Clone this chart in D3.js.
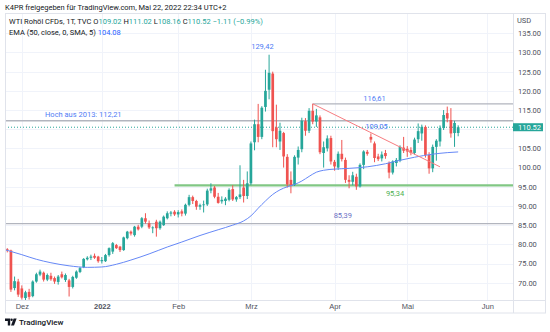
<!DOCTYPE html>
<html><head><meta charset="utf-8">
<script src="https://cdn.jsdelivr.net/npm/d3@7"></script>
<style>
html,body{margin:0;padding:0;background:#fff;}
svg{display:block;font-family:Roboto,"Noto Sans",Arial,sans-serif;}
</style></head><body>
<svg id="chart" width="550" height="332"></svg>
<script>
// Daily WTI CFD candles (TVC), 24 Nov 2021 - 20 May 2022
const dates = [
"2021-11-24","2021-11-26","2021-11-29","2021-11-30","2021-12-01","2021-12-02","2021-12-03","2021-12-06","2021-12-07","2021-12-08",
"2021-12-09","2021-12-10","2021-12-13","2021-12-14","2021-12-15","2021-12-16","2021-12-17","2021-12-20","2021-12-21","2021-12-22",
"2021-12-23","2021-12-27","2021-12-28","2021-12-29","2021-12-30","2021-12-31","2022-01-03","2022-01-04","2022-01-05","2022-01-06",
"2022-01-07","2022-01-10","2022-01-11","2022-01-12","2022-01-13","2022-01-14","2022-01-17","2022-01-18","2022-01-19","2022-01-20",
"2022-01-21","2022-01-24","2022-01-25","2022-01-26","2022-01-27","2022-01-28","2022-01-31","2022-02-01","2022-02-02","2022-02-03",
"2022-02-04","2022-02-07","2022-02-08","2022-02-09","2022-02-10","2022-02-11","2022-02-14","2022-02-15","2022-02-16","2022-02-17",
"2022-02-18","2022-02-21","2022-02-22","2022-02-23","2022-02-24","2022-02-25","2022-02-28","2022-03-01","2022-03-02","2022-03-03",
"2022-03-04","2022-03-07","2022-03-08","2022-03-09","2022-03-10","2022-03-11","2022-03-14","2022-03-15","2022-03-16","2022-03-17",
"2022-03-18","2022-03-21","2022-03-22","2022-03-23","2022-03-24","2022-03-25","2022-03-28","2022-03-29","2022-03-30","2022-03-31",
"2022-04-01","2022-04-04","2022-04-05","2022-04-06","2022-04-07","2022-04-08","2022-04-11","2022-04-12","2022-04-13","2022-04-14",
"2022-04-18","2022-04-19","2022-04-20","2022-04-21","2022-04-22","2022-04-25","2022-04-26","2022-04-27","2022-04-28","2022-04-29",
"2022-05-02","2022-05-03","2022-05-04","2022-05-05","2022-05-06","2022-05-09","2022-05-10","2022-05-11","2022-05-12","2022-05-13",
"2022-05-16","2022-05-17","2022-05-18","2022-05-19","2022-05-20"];
const open = [
78.7,78.4,68.6,70.3,68.5,66.0,67.6,66.5,70.3,72.1,
72.6,70.8,71.8,71.2,70.2,72.2,70.7,70.6,68.9,71.3,
72.8,74.0,76.1,76.5,77.0,76.8,75.6,75.6,77.2,78.1,
79.8,79.4,78.5,81.6,83.3,82.4,84.6,84.6,86.8,85.5,
84.2,85.9,84.2,85.0,86.8,88.0,88.5,87.8,88.6,88.0,
90.3,92.3,91.3,89.8,90.2,90.4,94.0,94.8,92.4,91.2,
91.3,91.6,94.4,91.7,92.3,94.8,92.6,95.9,106.6,111.3,
108.0,115.8,120.3,124.5,110.5,106.8,109.0,102.8,96.8,95.5,
102.6,104.8,112.1,109.6,114.8,112.0,113.1,103.8,105.0,107.7,
101.5,100.0,103.6,102.0,96.8,96.3,97.6,95.1,100.7,104.1,
108.0,106.3,102.9,102.4,103.8,101.2,98.7,101.2,101.8,105.2,
104.9,104.6,103.8,107.4,108.9,110.6,103.3,99.8,105.4,106.8,
110.3,114.2,112.4,109.0,109.02];
const high = [
79.0,78.6,71.6,71.0,69.3,67.9,68.4,70.6,72.6,73.4,
72.9,72.4,72.6,71.6,72.0,72.9,72.4,71.0,71.8,73.2,
74.1,76.4,76.9,77.3,77.6,77.0,76.7,77.5,79.2,80.6,
80.1,79.6,82.0,83.5,83.6,84.8,85.1,87.1,88.1,86.2,
84.7,86.4,86.2,87.5,88.6,88.7,88.9,88.9,89.1,90.6,
92.9,92.7,91.6,90.6,91.4,94.5,95.9,95.2,93.4,92.5,
92.3,94.6,95.4,92.6,100.6,96.8,99.0,106.8,112.5,116.6,
116.0,125.5,129.42,125.0,116.4,111.7,109.3,103.5,99.0,103.2,
105.5,113.0,112.9,115.5,116.61,115.3,113.6,106.8,108.4,108.3,
102.0,104.2,107.2,102.6,98.0,98.9,98.4,101.1,104.5,104.6,
108.9,106.8,103.6,104.2,104.6,101.6,101.9,102.5,105.8,108.0,
105.6,105.3,107.8,111.5,111.2,111.0,104.0,106.0,107.4,111.0,
115.0,115.9,115.5,112.2,111.02];
const low = [
77.9,67.6,68.0,66.3,65.6,65.2,65.6,66.2,70.0,71.7,
70.3,70.4,70.5,69.7,69.5,71.1,70.2,66.4,68.5,71.0,
72.5,73.8,75.8,75.9,76.2,75.2,75.0,75.4,76.8,77.5,
78.8,78.0,78.3,81.3,82.3,82.0,83.6,84.2,85.4,84.0,
82.9,82.0,83.8,84.8,86.5,87.3,87.4,87.0,87.3,87.5,
89.9,90.5,89.0,89.0,88.3,90.0,93.3,92.0,90.6,90.6,
90.2,91.2,91.3,91.1,91.8,90.9,91.8,95.4,104.5,106.6,
107.4,114.6,117.8,105.3,105.3,104.6,100.0,94.8,93.3,95.2,
100.8,104.0,108.3,109.0,111.3,110.6,103.5,100.0,104.2,100.8,
99.2,99.4,101.6,96.0,94.6,95.4,94.2,94.8,99.6,103.1,
106.5,101.4,101.7,101.6,102.3,97.2,98.2,100.3,101.4,103.8,
102.8,103.2,103.4,106.4,107.0,102.6,98.4,98.8,101.8,105.5,
109.8,111.8,107.8,105.4,108.16];
const close = [
78.4,68.2,70.4,66.9,66.1,67.5,66.3,70.3,72.2,72.9,
70.8,72.0,70.9,70.3,71.6,71.4,72.0,68.9,71.5,72.9,
73.8,76.2,76.5,76.8,76.5,75.6,75.9,77.2,79.0,80.3,
79.0,78.5,81.8,83.3,82.8,84.6,83.9,86.8,85.9,84.4,
84.4,84.2,85.9,87.2,88.1,88.3,87.8,88.4,88.0,90.3,
92.3,91.3,89.8,90.2,90.4,94.0,94.6,92.4,90.8,91.6,
91.9,94.2,91.7,92.3,93.0,92.6,95.9,106.3,111.3,108.0,
115.6,120.0,124.7,109.5,107.4,109.6,102.9,95.6,95.2,102.8,
104.6,112.2,109.6,114.8,112.0,113.6,104.0,105.3,107.6,101.6,
100.3,103.6,102.2,96.8,96.3,98.0,95.1,100.7,104.2,103.6,
107.3,102.5,102.2,103.4,103.0,98.7,101.6,102.0,105.4,104.4,
104.2,103.8,107.3,109.5,110.6,103.3,99.8,105.4,107.0,110.3,
113.7,112.8,108.9,111.63,110.52];

// EMA (50, close, SMA 5) read at selected bars (index -1 is the bar before the window)
const emaBar = [-1,4,8,12,17,22,26,30,34,39,44,48,53,58,62,65,67,69,71,73,75,77,79,81,83,85,87,90,94,99,104,108,112,117,121,124];
const emaVal = [78.7,77.3,76.1,75.2,74.4,74.0,74.1,74.8,75.9,77.5,79.3,80.6,82.3,83.8,85.0,86.1,87.4,89.4,91.3,93.0,94.2,95.0,95.6,96.5,97.7,98.8,99.3,99.6,99.8,100.2,101.0,101.9,102.7,103.5,103.9,104.08];

const priceTicks = [70,75,80,85,90,95,100,105,110,115,120,125,130,135];
const timeTickDates = ["2021-12-01","2022-01-03","2022-02-01","2022-03-01","2022-04-01","2022-05-02","2022-06-01"];
const timeTickLabels = ["Dez","2022","Feb","Mrz","Apr","Mai","Jun"];

// drawn levels
const levelHigh2013 = 112.21;
const levelMarch = 116.61;
const levelSupport = 95.34;
const levelLow = 85.39;
const trendStart = {date:"2022-03-24", price:116.61};
const trendEnd = {date:"2022-05-13", price:100.2};
const supportStart = "2022-01-31";
const marchHighStart = "2022-03-24";

const W = 550, H = 332;
const plot = {left:5, right:513, top:13.5, bottom:300};
const up = "#26a69a", down = "#ef5350";
const svg = d3.select("#chart");
svg.append("rect").attr("width", W).attr("height", H).attr("fill", "#fff");

const parse = d3.timeParse("%Y-%m-%d");
// bar index of a date; dates past the last bar count forward in weekdays
function barIndex(ds){
  const k = dates.indexOf(ds);
  if (k >= 0) return k;
  let d = parse(dates[dates.length-1]); const t = parse(ds); let n = dates.length-1;
  while (d < t){ d = d3.timeDay.offset(d, 1); const wd = d.getDay(); if (wd !== 0 && wd !== 6) n++; }
  return n;
}
const bars = dates.map((d,i) => ({i, o:open[i], h:high[i], l:low[i], c:close[i]}));
const lastClose = close[close.length-1];

const x = d3.scaleLinear().domain([-0.63, 139.08]).range([plot.left, plot.right]);
const y = d3.scaleLinear().domain([65.49, 140.16]).range([plot.bottom, plot.top]);

svg.append("defs").append("clipPath").attr("id","clip")
  .append("rect").attr("x",plot.left).attr("y",plot.top)
  .attr("width",plot.right-plot.left).attr("height",plot.bottom-plot.top);

// grid
const grid = svg.append("g");
grid.selectAll("line.h").data(priceTicks).join("line")
  .attr("x1",plot.left).attr("x2",plot.right)
  .attr("y1",d=>Math.round(y(d))+0.5).attr("y2",d=>Math.round(y(d))+0.5)
  .attr("stroke","#f0f3fa").attr("stroke-width",1);
const tIdx = timeTickDates.map(barIndex);
grid.selectAll("line.v").data(tIdx).join("line")
  .attr("x1",d=>Math.round(x(d))+0.5).attr("x2",d=>Math.round(x(d))+0.5)
  .attr("y1",plot.top).attr("y2",plot.bottom)
  .attr("stroke","#f0f3fa").attr("stroke-width",1);

const g = svg.append("g").attr("clip-path","url(#clip)");

// horizontal levels
function hline(price, fromIdx, color, width){
  g.append("line").attr("x1", fromIdx == null ? plot.left : x(fromIdx)).attr("x2", plot.right)
    .attr("y1", y(price)).attr("y2", y(price)).attr("stroke", color).attr("stroke-width", width);
}
hline(levelHigh2013, null, "#b2b5be", 1.3);
hline(levelMarch, barIndex(marchHighStart), "#b2b5be", 1.3);
hline(levelLow, null, "#b2b5be", 1.3);
hline(levelSupport, barIndex(supportStart), "#81c784", 2.2);

// last price line
g.append("line").attr("x1",plot.left).attr("x2",plot.right)
  .attr("y1",y(lastClose)).attr("y2",y(lastClose))
  .attr("stroke",up).attr("stroke-width",1).attr("stroke-dasharray","1,2");

// candles
const cg = g.append("g");
cg.selectAll("line.w").data(bars).join("line")
  .attr("x1",d=>x(d.i)).attr("x2",d=>x(d.i))
  .attr("y1",d=>y(d.h)).attr("y2",d=>y(d.l))
  .attr("stroke",d=>d.c>=d.o?up:down).attr("stroke-width",1);
cg.selectAll("rect").data(bars).join("rect")
  .attr("x",d=>x(d.i)-1.35).attr("width",2.7)
  .attr("y",d=>y(Math.max(d.o,d.c)))
  .attr("height",d=>Math.max(0.8, Math.abs(y(d.o)-y(d.c))))
  .attr("fill",d=>d.c>=d.o?up:down);

// EMA line
g.append("path").datum(emaBar.map((b,k)=>[b,emaVal[k]]))
  .attr("fill","none").attr("stroke","#6688f6").attr("stroke-width",1)
  .attr("d", d3.line().x(d=>x(d[0])).y(d=>y(d[1])).curve(d3.curveMonotoneX));

// trend line
g.append("line")
  .attr("x1",x(barIndex(trendStart.date))).attr("y1",y(trendStart.price))
  .attr("x2",x(barIndex(trendEnd.date))).attr("y2",y(trendEnd.price))
  .attr("stroke","#f77c80").attr("stroke-width",1);

// annotation texts
const blue = "#4f7df5";
function note(txt, cx, price, dy, color, anchor){
  svg.append("text").attr("x",cx).attr("y",y(price)+dy)
    .attr("text-anchor",anchor||"middle").attr("font-size","7.5px").attr("fill",color).text(txt);
}
note("Hoch aus 2013: 112,21", 45, levelHigh2013, -4, blue, "start");
note("129,42", x(barIndex("2022-03-07"))-3, 129.42, -6, blue);
note("116,61", x(barIndex("2022-04-19")), levelMarch, -3, blue);
note("109,05", x(barIndex("2022-04-19"))+2, levelHigh2013, 8, blue);
note("95,34", x(barIndex("2022-04-25"))+6, levelSupport, 11, "#4caf50");
note("85,39", x(barIndex("2022-04-05"))+1, levelLow, -6, "#6a6fc4");

// frame
const frame = "#e0e3eb";
svg.append("rect").attr("x",5.5).attr("y",13.5).attr("width",540).attr("height",299.5)
  .attr("fill","none").attr("stroke",frame);
svg.append("line").attr("x1",5).attr("x2",545.5).attr("y1",300.5).attr("y2",300.5).attr("stroke",frame);
svg.append("line").attr("x1",513.5).attr("x2",513.5).attr("y1",13.5).attr("y2",313).attr("stroke",frame);

// price axis (the label under the last-price tag is hidden)
const labelTicks = priceTicks.filter(p => Math.abs(y(p) - y(lastClose)) > 8);
const yAxis = d3.axisRight(y).tickValues(labelTicks).tickFormat(d3.format(".2f")).tickSize(0).tickPadding(0);
const ya = svg.append("g").attr("transform","translate(518,0)").call(yAxis);
ya.select(".domain").remove();
ya.selectAll("text").attr("font-size","7.5px").attr("fill","#50535e").attr("font-family","Roboto,sans-serif");
svg.append("text").attr("x",517).attr("y",23).attr("font-size","7.5px").attr("fill","#50535e").text("USD");

// last price tag
const lastY = y(lastClose);
svg.append("rect").attr("x",513).attr("y",lastY-4).attr("width",30).attr("height",8).attr("fill",up);
svg.append("text").attr("x",518).attr("y",lastY+2.7).attr("font-size","7.5px").attr("fill","#fff")
  .text(d3.format(".2f")(lastClose));

// time axis
const xAxis = d3.axisBottom(x).tickValues(tIdx).tickFormat((d,k)=>timeTickLabels[k]).tickSize(0).tickPadding(0);
const xa = svg.append("g").attr("transform","translate(0,304)").call(xAxis);
xa.select(".domain").remove();
xa.selectAll("text").attr("font-size","7.5px").attr("fill","#50535e")
  .attr("font-weight",(d,k)=>timeTickLabels[k]==="2022"?"bold":"normal");

// header
svg.append("text").attr("x",5).attr("y",9.5).attr("font-size","7.5px").attr("fill","#131722")
  .text("K4PR freigegeben für TradingView.com, Mai 22, 2022 22:34 UTC+2");
const last = bars[bars.length-1], prev = bars[bars.length-2];
const chg = last.c - prev.c;
const fmt = d3.format(".2f");
const lg = svg.append("text").attr("x",9).attr("y",23.5).attr("font-size","7.5px").attr("fill","#131722");
lg.append("tspan").text("WTI Rohöl CFDs, 1T, TVC  O");
lg.append("tspan").attr("fill",up).text(fmt(last.o));
lg.append("tspan").text(" H");
lg.append("tspan").attr("fill",up).text(fmt(last.h));
lg.append("tspan").text(" L");
lg.append("tspan").attr("fill",up).text(fmt(last.l));
lg.append("tspan").text(" C");
lg.append("tspan").attr("fill",up).text(fmt(last.c));
lg.append("tspan").attr("fill",up).text("  " + (chg<0?"−":"+") + fmt(Math.abs(chg)) + " (" + (chg<0?"−":"+") + fmt(Math.abs(chg/prev.c*100)) + "%)");
const el = svg.append("text").attr("x",9).attr("y",34.5).attr("font-size","7.5px").attr("fill","#131722");
el.append("tspan").text("EMA (50, close, 0, SMA, 5) ");
el.append("tspan").attr("fill","#2962ff").text(fmt(emaVal[emaVal.length-1]));

// footer logo
const logo = svg.append("g").attr("fill","#131722");
logo.append("path").attr("d","M5,318.5h5.2v7h-2.4v-4.6h-2.8z");
logo.append("circle").attr("cx",11.6).attr("cy",319.7).attr("r",1.2);
logo.append("path").attr("d","M13.6,318.5h3l-2.6,7h-3z");
svg.append("text").attr("x",19).attr("y",325).attr("font-size","8px").attr("font-weight","500")
  .attr("fill","#131722").text("TradingView");
</script>
</body></html>
